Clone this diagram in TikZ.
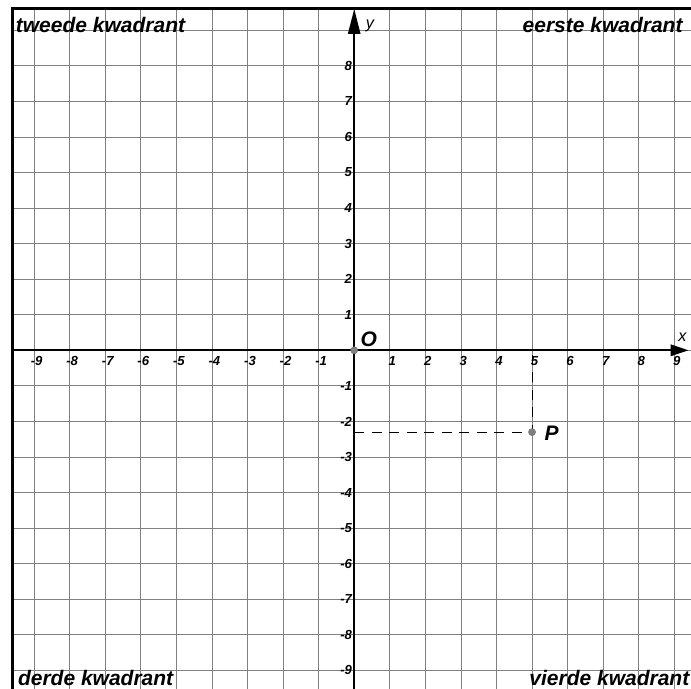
\documentclass[tikz,border=0pt]{standalone}
\usepackage{fontspec}
\setmainfont{Liberation Sans}
\usetikzlibrary{arrows.meta,positioning,calc}

\tikzset{
    gridline/.style={gray,line width=0.6pt},
    frameline/.style={line width=2.4pt},
    axisline/.style={line width=1.6pt},
    ticklabel/.style={font=\fontsize{10.5}{11}\selectfont\bfseries\itshape,inner sep=1pt},
    quadlabel/.style={font=\fontsize{16.8}{19}\selectfont\bfseries\itshape,inner sep=0pt},
    axislabel/.style={font=\fontsize{13}{15}\selectfont\itshape,inner sep=0pt},
    dotpoint/.style={circle,fill=gray,draw=gray!80!black,line width=0.3pt,inner sep=0pt,minimum size=0.2cm},
}

\begin{document}
\begin{tikzpicture}

    \useasboundingbox (-9.96,-9.52) rectangle (9.47,9.85);
    \clip (-9.96,-9.52) rectangle (9.47,9.85);

    \draw[gridline] (-9.6,-9.6) grid (9.6,9.6);
    \draw[frameline] (-9.6,-9.6) rectangle (9.6,9.6);

    % axes
    \draw[axisline,-{Triangle[length=0.5cm,width=0.32cm]}] (-9.6,0) -- (9.4,0) coordinate(xend);
    \draw[axisline,-{Triangle[length=0.7cm,width=0.34cm]}] (0,-9.6) -- (0,9.6) coordinate(yend);
    \node[axislabel] (xlab) at (9.23,0.38) {x};
    \node[axislabel] (ylab) at (0.44,9.12) {y};

    \foreach \i in {-9,...,-1,1,2,...,9}{
        \node[ticklabel,anchor=north] (xt\i) at (\i+0.07,-0.13) {\i};
    }
    \foreach \i in {-9,...,-1,1,2,...,8}{
        \node[ticklabel,anchor=east] (yt\i) at (-0.02,\i) {\i};
    }

    % quadrants
    \node[quadlabel,anchor=base west] (q2) at (-9.52,8.94) {tweede kwadrant};
    \node[quadlabel,anchor=base east] (q1) at (9.24,8.94) {eerste kwadrant};
    \node[quadlabel,anchor=base west] (q3) at (-9.46,-9.43) {derde kwadrant};
    \node[quadlabel,anchor=base east] (q4) at (9.43,-9.43) {vierde kwadrant};

    % origin and P
    \node[dotpoint] (O) at (0,0) {};
    \node[quadlabel] (Olab) at (0.41,0.32) {O};
    \coordinate (Px) at (5,0);
    \coordinate (Py) at (0,-2.3);
    \draw[dash pattern=on 8pt off 6pt,line width=0.6pt] (Py) -- (5,-2.3) coordinate(Pc) -- (Px);
    \node[dotpoint] (P) at (Pc) {};
    \node[quadlabel] (Plab) at (5.55,-2.33) {P};

\end{tikzpicture}
\end{document}
